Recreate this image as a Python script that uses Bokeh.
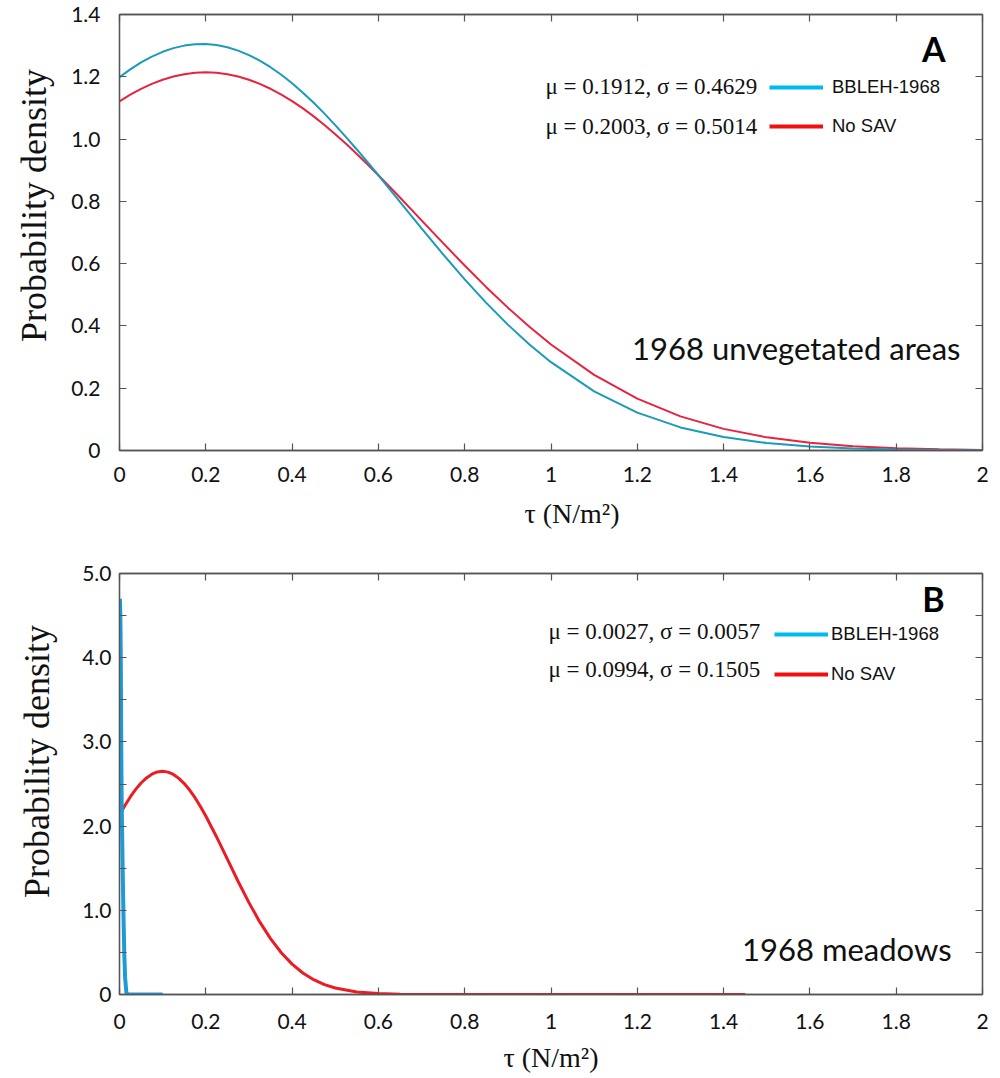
import numpy as np
from bokeh.plotting import figure
from bokeh.models import (Range1d, LinearAxis, FixedTicker, Label, Legend, LegendItem,
                          CustomJSTickFormatter)
from bokeh.layouts import column
from bokeh.embed import file_html
from bokeh.resources import INLINE

# ---------------- data ----------------
series_names = ["BBLEH-1968", "No SAV"]

# Panel A: 1968 unvegetated areas
a_tau = [0, 0.025, 0.05, 0.075, 0.1, 0.125, 0.15, 0.175, 0.2, 0.225, 0.25, 0.275, 0.3,
         0.325, 0.35, 0.375, 0.4, 0.425, 0.45, 0.475, 0.5, 0.525, 0.55, 0.575, 0.6, 0.65,
         0.7, 0.75, 0.8, 0.85, 0.9, 0.95, 1.0, 1.1, 1.2, 1.3, 1.4, 1.5, 1.6, 1.7, 1.8, 1.9, 2.0]
a_bbleh = [1.1986, 1.2238, 1.2460, 1.2648, 1.2802, 1.2920, 1.3001, 1.3045, 1.3051, 1.3018,
           1.2948, 1.2841, 1.2697, 1.2519, 1.2307, 1.2064, 1.1790, 1.1490, 1.1165, 1.0817,
           1.0449, 1.0065, 0.9666, 0.9256, 0.8838, 0.7987, 0.7135, 0.6299, 0.5497, 0.4741,
           0.4042, 0.3406, 0.2836, 0.1900, 0.1215, 0.0741, 0.0432, 0.0240, 0.0127, 0.0064,
           0.0031, 0.0014, 0.0006]
a_nosav = [1.1212, 1.1424, 1.1611, 1.1771, 1.1903, 1.2008, 1.2083, 1.2129, 1.2144, 1.2129,
           1.2084, 1.2010, 1.1906, 1.1774, 1.1615, 1.1429, 1.1218, 1.0984, 1.0728, 1.0452,
           1.0157, 0.9847, 0.9522, 0.9185, 0.8839, 0.8122, 0.7391, 0.6658, 0.5939, 0.5245,
           0.4587, 0.3971, 0.3404, 0.2428, 0.1664, 0.1096, 0.0694, 0.0422, 0.0247, 0.0139,
           0.0075, 0.0039, 0.0019]
a_stats = ["\u03bc = 0.1912, \u03c3 = 0.4629", "\u03bc = 0.2003, \u03c3 = 0.5014"]

# Panel B: 1968 meadows
b_tau_bbleh = [0, 0.001, 0.002, 0.003, 0.004, 0.005, 0.007, 0.009, 0.011, 0.013, 0.016, 0.02, 0.1]
b_bbleh = [4.2, 4.7, 4.5, 4.0, 3.0, 2.3, 1.6, 1.0, 0.5, 0.2, 0.02, 0.0, 0.0]
b_tau_nosav = [0, 0.0125, 0.025, 0.0375, 0.05, 0.0625, 0.075, 0.0875, 0.1, 0.1125, 0.125,
               0.1375, 0.15, 0.1625, 0.175, 0.1875, 0.2, 0.225, 0.25, 0.275, 0.3, 0.325,
               0.35, 0.375, 0.4, 0.425, 0.45, 0.475, 0.5, 0.55, 0.6, 0.65, 0.7, 0.8, 0.9,
               1.0, 1.2, 1.45]
b_nosav = [2.131, 2.244, 2.346, 2.436, 2.512, 2.572, 2.616, 2.643, 2.651, 2.641, 2.613,
           2.567, 2.505, 2.428, 2.337, 2.233, 2.120, 1.871, 1.607, 1.342, 1.091, 0.862,
           0.663, 0.496, 0.361, 0.255, 0.176, 0.118, 0.077, 0.030, 0.011, 0.003, 0.001,
           0.0, 0.0, 0.0, 0.0, 0.0]
b_stats = ["\u03bc = 0.0027, \u03c3 = 0.0057", "\u03bc = 0.0994, \u03c3 = 0.1505"]

x_ticks = [0, 0.2, 0.4, 0.6, 0.8, 1.0, 1.2, 1.4, 1.6, 1.8, 2.0]
a_y_ticks = [0, 0.2, 0.4, 0.6, 0.8, 1.0, 1.2, 1.4]
b_y_ticks = [0, 0.5, 1.0, 1.5, 2.0, 2.5, 3.0, 3.5, 4.0, 4.5, 5.0]

x_title = "\u03c4 (N/m\u00b2)"
y_title = "Probability density"

# ---------------- styling ----------------
AX_COLOR = "#555555"
TICK_FONT = "Lato"
SERIF = "Liberation Serif"
NBSP = "\u00a0"
W = 996

x_fmt = CustomJSTickFormatter(code="""
    if (Math.abs(tick - Math.round(tick)) < 1e-9) return tick.toFixed(0);
    return tick.toFixed(1);""")
ya_fmt = CustomJSTickFormatter(code="""
    if (Math.abs(tick) < 1e-9) return "0";
    return tick.toFixed(1);""")
yb_fmt = CustomJSTickFormatter(code="""
    if (Math.abs(tick) < 1e-9) return "0";
    if (Math.abs(tick - Math.round(tick)) > 1e-6) return "";
    return tick.toFixed(1);""")
blank_fmt = CustomJSTickFormatter(code="return '';")


def style_axis(ax, ticks, fmt, standoff, visible_labels=True):
    ax.ticker = FixedTicker(ticks=ticks, minor_ticks=[])
    ax.formatter = fmt
    ax.major_tick_in = 7
    ax.major_tick_out = 0
    ax.minor_tick_in = 0
    ax.minor_tick_out = 0
    ax.axis_line_color = AX_COLOR
    ax.axis_line_width = 1.3
    ax.major_tick_line_color = AX_COLOR
    ax.major_tick_line_width = 1.2
    ax.major_label_standoff = standoff
    ax.major_label_text_font = TICK_FONT
    ax.major_label_text_color = "#111111"
    ax.major_label_text_font_size = "21px" if visible_labels else "0px"


def make_panel(height, frame, page_top, yr, y_ticks, y_fmt, x_standoff, y_standoff,
               x_lab_standoff, y_lab_standoff, x_pad, y_pad):
    left, right, top, bottom = frame
    p = figure(width=W, height=height, x_range=Range1d(0, 2), y_range=Range1d(*yr),
               output_backend="svg", toolbar_location=None,
               min_border_left=left, min_border_right=W - right,
               min_border_top=top - page_top, min_border_bottom=(page_top + height) - bottom)
    p.grid.visible = False
    p.outline_line_color = AX_COLOR
    p.outline_line_width = 1.3
    p.background_fill_color = "white"
    p.border_fill_color = "white"
    style_axis(p.xaxis[0], x_ticks, x_fmt, x_standoff)
    style_axis(p.yaxis[0], y_ticks, y_fmt, y_standoff)
    p.xaxis[0].axis_label = NBSP * x_pad + x_title
    p.xaxis[0].axis_label_text_font = SERIF
    p.xaxis[0].axis_label_text_font_style = "normal"
    p.xaxis[0].axis_label_text_font_size = "28px"
    p.xaxis[0].axis_label_text_color = "#111111"
    p.xaxis[0].axis_label_standoff = x_lab_standoff
    p.yaxis[0].axis_label = NBSP * y_pad + y_title
    p.yaxis[0].axis_label_text_font = SERIF
    p.yaxis[0].axis_label_text_font_style = "normal"
    p.yaxis[0].axis_label_text_font_size = "36px"
    p.yaxis[0].axis_label_text_color = "#111111"
    p.yaxis[0].axis_label_standoff = y_lab_standoff
    top_ax = LinearAxis()
    right_ax = LinearAxis()
    style_axis(top_ax, x_ticks, blank_fmt, 0, visible_labels=False)
    style_axis(right_ax, y_ticks, blank_fmt, 0, visible_labels=False)
    p.add_layout(top_ax, "above")
    p.add_layout(right_ax, "right")
    return p


def converters(frame, yr):
    left, right, top, bottom = frame
    fx = lambda px: (px - left) / (right - left) * 2.0
    fy = lambda py: yr[0] + (bottom - py) / (bottom - top) * (yr[1] - yr[0])
    return fx, fy


def add_texts(p, fx, fy, stats, stats_x, stats_y, letter, letter_xy, area, area_xy):
    for s, yy in zip(stats, stats_y):
        p.add_layout(Label(x=fx(stats_x), y=fy(yy), text=s, text_font=SERIF,
                           text_font_size="23px", text_color="#111111",
                           text_align="left", text_baseline="alphabetic"))
    p.add_layout(Label(x=fx(letter_xy[0]), y=fy(letter_xy[1]), text=letter, text_font="Lato",
                       text_font_style="bold", text_font_size="34px", text_color="#000000",
                       text_align="right", text_baseline="alphabetic"))
    p.add_layout(Label(x=fx(area_xy[0]), y=fy(area_xy[1]), text=area, text_font="Lato",
                       text_font_size="31px", text_color="#111111",
                       text_align="right", text_baseline="alphabetic"))


def add_legend(p, loc, spacing, standoff):
    nan = [float("nan")]
    d_blue = p.line(nan, nan, line_color="#00b9f1", line_width=4)
    d_red = p.line(nan, nan, line_color="#f01010", line_width=4)
    leg = Legend(items=[LegendItem(label=series_names[0], renderers=[d_blue]),
                        LegendItem(label=series_names[1], renderers=[d_red])],
                 location=loc, orientation="vertical",
                 background_fill_alpha=0, border_line_alpha=0, padding=0, margin=0,
                 spacing=spacing, glyph_width=54, glyph_height=20, label_height=20,
                 label_standoff=standoff, label_text_font="Liberation Sans",
                 label_text_font_size="18.5px", label_text_color="#111111",
                 label_text_baseline="middle")
    p.add_layout(leg)


# ---------------- panel A ----------------
frameA = (119, 982, 14, 450)
yrA = (0, 1.4)
pA = make_panel(540, frameA, 0, yrA, a_y_ticks, ya_fmt, x_standoff=16, y_standoff=19,
                x_lab_standoff=13, y_lab_standoff=14, x_pad=6, y_pad=6)
pA.line(a_tau, a_nosav, line_color="#e8233f", line_width=2)
pA.line(a_tau, a_bbleh, line_color="#1a9bb8", line_width=2)
fxA, fyA = converters(frameA, yrA)
add_texts(pA, fxA, fyA, a_stats, 545, [86, 126], "A", (945, 48),
          "1968 unvegetated areas", (960, 347))
add_legend(pA, (769 - 119, 450 - 137), 17, 9)

# ---------------- panel B ----------------
frameB = (118, 983, 573, 994)
yrB = (0, 5)
pB = make_panel(536, frameB, 540, yrB, b_y_ticks, yb_fmt, x_standoff=19, y_standoff=8,
                x_lab_standoff=10, y_lab_standoff=22, x_pad=0, y_pad=5)
pB.line(b_tau_nosav, b_nosav, line_color="#ea1c24", line_width=3)
pB.line(b_tau_bbleh, b_bbleh, line_color="#1e9ad6", line_width=4)
fxB, fyB = converters(frameB, yrB)
add_texts(pB, fxB, fyB, b_stats, 548, [631, 669], "B", (945, 598),
          "1968 meadows", (952, 948))
add_legend(pB, (773 - 118, 994 - 685), 18, 3)

layout = column(pA, pB, spacing=0)
open("out.html", "w").write(file_html(layout, INLINE))
